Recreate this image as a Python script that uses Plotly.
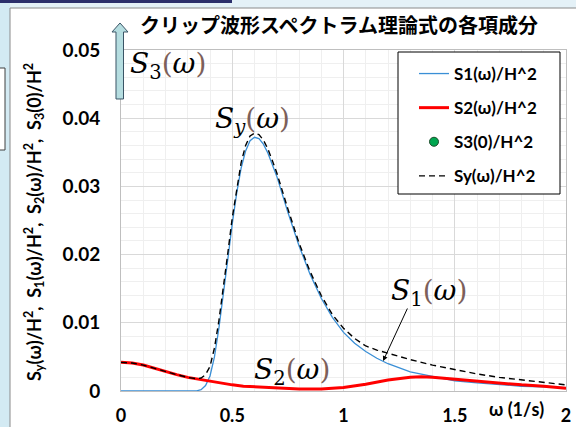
import plotly.graph_objects as go

# ---------------- data ----------------
s1_x = [0.00, 0.30, 0.34, 0.36, 0.38, 0.40, 0.42, 0.44, 0.46, 0.48, 0.50, 0.52, 0.54,
        0.56, 0.58, 0.60, 0.62, 0.64, 0.66, 0.68, 0.70, 0.75, 0.80, 0.85, 0.90, 0.95,
        1.00, 1.05, 1.10, 1.15, 1.20, 1.30, 1.40, 1.50, 1.60, 1.70, 1.80, 1.90, 2.00]
s1_y = [0.0, 0.0, 0.00002, 0.0002, 0.0008, 0.0022, 0.0050, 0.0092, 0.0140, 0.0193,
        0.0245, 0.0290, 0.0327, 0.0352, 0.0367, 0.0372, 0.0370, 0.0362, 0.0349, 0.0333,
        0.0315, 0.0262, 0.0213, 0.0171, 0.0136, 0.0108, 0.0086, 0.0070, 0.0058, 0.0048,
        0.0040, 0.0028, 0.0021, 0.0015, 0.0012, 0.0009, 0.0007, 0.0006, 0.0005]

s2_x = [0.00, 0.05, 0.10, 0.15, 0.20, 0.25, 0.30, 0.35, 0.40, 0.45, 0.50, 0.55, 0.60,
        0.65, 0.70, 0.80, 0.90, 1.00, 1.10, 1.20, 1.30, 1.35, 1.40, 1.50, 1.60, 1.70,
        1.80, 1.90, 2.00]
s2_y = [0.0042, 0.0041, 0.0038, 0.0033, 0.0028, 0.0024, 0.0020, 0.0017, 0.0014, 0.0011,
        0.0009, 0.0007, 0.0006, 0.0005, 0.0004, 0.0003, 0.0003, 0.0005, 0.0010, 0.0016,
        0.0020, 0.0021, 0.0020, 0.0017, 0.0014, 0.0011, 0.0009, 0.0007, 0.0004]

s3_x = [0.0]
s3_y = [0.06]   # off the top of the axis (shown by the arrow)

sy_x = [0.00, 0.05, 0.10, 0.15, 0.20, 0.25, 0.30, 0.34, 0.36, 0.38, 0.40, 0.42, 0.44,
        0.46, 0.48, 0.50, 0.52, 0.54, 0.56, 0.58, 0.60, 0.62, 0.64, 0.66, 0.68, 0.70,
        0.75, 0.80, 0.85, 0.90, 0.95, 1.00, 1.05, 1.10, 1.15, 1.20, 1.30, 1.40, 1.50,
        1.60, 1.70, 1.80, 1.90, 2.00]
sy_y = [0.0042, 0.0041, 0.0038, 0.0033, 0.0028, 0.0024, 0.0020, 0.0018, 0.0019, 0.0024,
        0.0036, 0.0063, 0.0103, 0.0150, 0.0202, 0.0254, 0.0298, 0.0335, 0.0360, 0.0374,
        0.0378, 0.0376, 0.0368, 0.0355, 0.0338, 0.0320, 0.0267, 0.0217, 0.0175, 0.0140,
        0.0112, 0.0092, 0.0077, 0.0066, 0.0060, 0.0055, 0.0046, 0.0038, 0.0031, 0.0025,
        0.0020, 0.0016, 0.0012, 0.0009]

x_ticks = [0, 0.5, 1, 1.5, 2]
x_labels = ["0", "0.5", "1", "1.5", "2"]
y_ticks = [0, 0.01, 0.02, 0.03, 0.04, 0.05]
y_labels = ["0", "0.01", "0.02", "0.03", "0.04", "0.05"]

names = ["S1(ω)/H^2", "S2(ω)/H^2", "S3(0)/H^2", "Sy(ω)/H^2"]
title_text = "クリップ波形スペクトラム理論式の各項成分"

# ---------------- layout helpers ----------------
W, H = 576, 427
ML, MR, MT, MB = 121, 10, 50, 36
PW, PH = W - ML - MR, H - MT - MB


def px(x):
    return (x - ML) / PW


def py(y):
    return (H - MB - y) / PH


SANS = "Lato, Noto Sans, sans-serif"
XTICKFONT = dict(family=SANS, size=18, color="black", weight="bold")
YTICKFONT = dict(family=SANS, size=19, color="black", weight="bold")
MATHFONT = dict(family="DejaVu Serif, Liberation Serif, serif", size=28, color="black")
BROWN = "#7d5f5a"


def mathlabel(sub, arg):
    return ("<i>S</i><sub>%s</sub><span style='color:%s'>(</span><i>%s</i>"
            "<span style='color:%s'>)</span>" % (sub, BROWN, arg, BROWN))


fig = go.Figure()

fig.add_trace(go.Scatter(x=s1_x, y=s1_y, mode="lines", name=names[0],
                         line=dict(color="#3a8fd6", width=1.3), legendgroup="a"))
fig.add_trace(go.Scatter(x=s2_x, y=s2_y, mode="lines", name=names[1],
                         line=dict(color="#ff0000", width=3), legendgroup="b"))
fig.add_trace(go.Scatter(x=s3_x, y=s3_y, mode="markers", name=names[2],
                         marker=dict(color="#00a650", size=9,
                                     line=dict(color="#1d4d2b", width=1)),
                         legendgroup="c"))
fig.add_trace(go.Scatter(x=sy_x, y=sy_y, mode="lines", name=names[3],
                         line=dict(color="black", width=1.4, dash="6px,4px"),
                         legendgroup="d"))

shapes = []
# slide background pieces around the chart
shapes.append(dict(type="rect", xref="paper", yref="paper", layer="below",
                   x0=px(0), x1=px(10), y0=py(427), y1=py(0),
                   fillcolor="#d3eaf3", line=dict(width=0)))
shapes.append(dict(type="rect", xref="paper", yref="paper", layer="below",
                   x0=px(10), x1=px(576), y0=py(8), y1=py(0),
                   fillcolor="#e4f1f7", line=dict(width=0)))
shapes.append(dict(type="rect", xref="paper", yref="paper", layer="below",
                   x0=px(0), x1=px(232), y0=py(3), y1=py(0),
                   fillcolor="#2c2f6b", line=dict(width=0)))
shapes.append(dict(type="rect", xref="paper", yref="paper", layer="below",
                   x0=px(-2), x1=px(5), y0=py(150), y1=py(68),
                   fillcolor="white", line=dict(color="#404040", width=1)))
shapes.append(dict(type="line", xref="paper", yref="paper", layer="below",
                   x0=px(10), x1=px(10), y0=py(427), y1=py(8),
                   line=dict(color="#8a8a8a", width=1)))
shapes.append(dict(type="line", xref="paper", yref="paper", layer="below",
                   x0=px(10), x1=px(576), y0=py(8), y1=py(8),
                   line=dict(color="#8a8a8a", width=1)))
# block arrow for S3 (delta at omega = 0)
path = "M %f %f L %f %f L %f %f L %f %f L %f %f L %f %f L %f %f Z" % (
    px(116), py(99), px(116), py(32), px(112), py(32), px(120), py(23),
    px(128), py(32), px(123.5), py(32), px(123.5), py(99))
shapes.append(dict(type="path", xref="paper", yref="paper", layer="above",
                   path=path, fillcolor="#b5dde0", line=dict(color="#3b5566", width=1)))
# legend box
shapes.append(dict(type="rect", xref="paper", yref="paper", layer="above",
                   x0=px(398), x1=px(560), y0=py(194), y1=py(52),
                   fillcolor="white", line=dict(color="black", width=1)))

annotations = [
    dict(text=title_text, xref="paper", yref="paper", x=px(339), y=py(24),
         showarrow=False, xanchor="center", yanchor="middle",
         font=dict(family="Noto Sans CJK JP", size=20, color="black", weight="bold")),
    dict(text="S<sub>y</sub>(ω)/H<sup>2</sup>,  S<sub>1</sub>(ω)/H<sup>2</sup>,  "
              "S<sub>2</sub>(ω)/H<sup>2</sup>,  S<sub>3</sub>(0)/H<sup>2</sup>",
         xref="paper", yref="paper", x=px(34), y=py(222), textangle=-90,
         showarrow=False, xanchor="center", yanchor="middle",
         font=dict(family=SANS, size=18, color="black", weight="bold")),
    dict(text="ω (1/s)", xref="paper", yref="paper", x=px(516), y=py(409),
         showarrow=False, xanchor="center", yanchor="middle",
         font=dict(family=SANS, size=18, color="black", weight="bold")),
    dict(text=mathlabel("3", "ω"), x=0.211, y=0.0477, showarrow=False,
         xanchor="center", yanchor="middle", font=MATHFONT),
    dict(text=mathlabel("<i>y</i>", "ω"), x=0.593, y=0.0396, showarrow=False,
         xanchor="center", yanchor="middle", font=MATHFONT),
    dict(text=mathlabel("1", "ω"), x=1.384, y=0.0145, showarrow=False,
         xanchor="center", yanchor="middle", font=MATHFONT),
    dict(text=mathlabel("2", "ω"), x=0.769, y=0.0028, showarrow=False,
         xanchor="center", yanchor="middle", font=MATHFONT),
    dict(text="", x=1.178, y=0.0044, ax=25, ay=-54, showarrow=True,
         arrowhead=2, arrowsize=1, arrowwidth=1, arrowcolor="black"),
]

fig.update_layout(
    width=W, height=H, autosize=False,
    margin=dict(l=ML, r=MR, t=MT, b=MB, pad=0, autoexpand=False),
    paper_bgcolor="white", plot_bgcolor="white",
    showlegend=True,
    legend=dict(x=px(414), y=py(56), xanchor="left", yanchor="top",
                bgcolor="rgba(0,0,0,0)", borderwidth=0,
                font=dict(family=SANS, size=17, color="black", weight="bold"),
                tracegroupgap=9, traceorder="grouped"),
    shapes=shapes,
    annotations=annotations,
    xaxis=dict(range=[0, 2], tickvals=x_ticks, ticktext=x_labels,
               showgrid=True, gridcolor="#d9d9d9", gridwidth=1,
               minor=dict(dtick=0.1, showgrid=True, gridcolor="#efefef", gridwidth=1),
               zeroline=False, showline=True, linecolor="#bfbfbf", mirror=True,
               ticks="", tickfont=XTICKFONT, ticklabelstandoff=8, fixedrange=True,
               automargin=False),
    yaxis=dict(range=[0, 0.05], tickvals=y_ticks, ticktext=y_labels,
               showgrid=True, gridcolor="#d9d9d9", gridwidth=1,
               minor=dict(dtick=0.002, showgrid=True, gridcolor="#efefef", gridwidth=1),
               zeroline=False, showline=True, linecolor="#bfbfbf", mirror=True,
               ticks="", tickfont=YTICKFONT, ticklabelstandoff=16, fixedrange=True,
               automargin=False),
)

fig.write_html("out.html",
               config={"displayModeBar": False},
               post_script="document.body.style.margin='0';"
                           "document.body.style.overflow='hidden';")
